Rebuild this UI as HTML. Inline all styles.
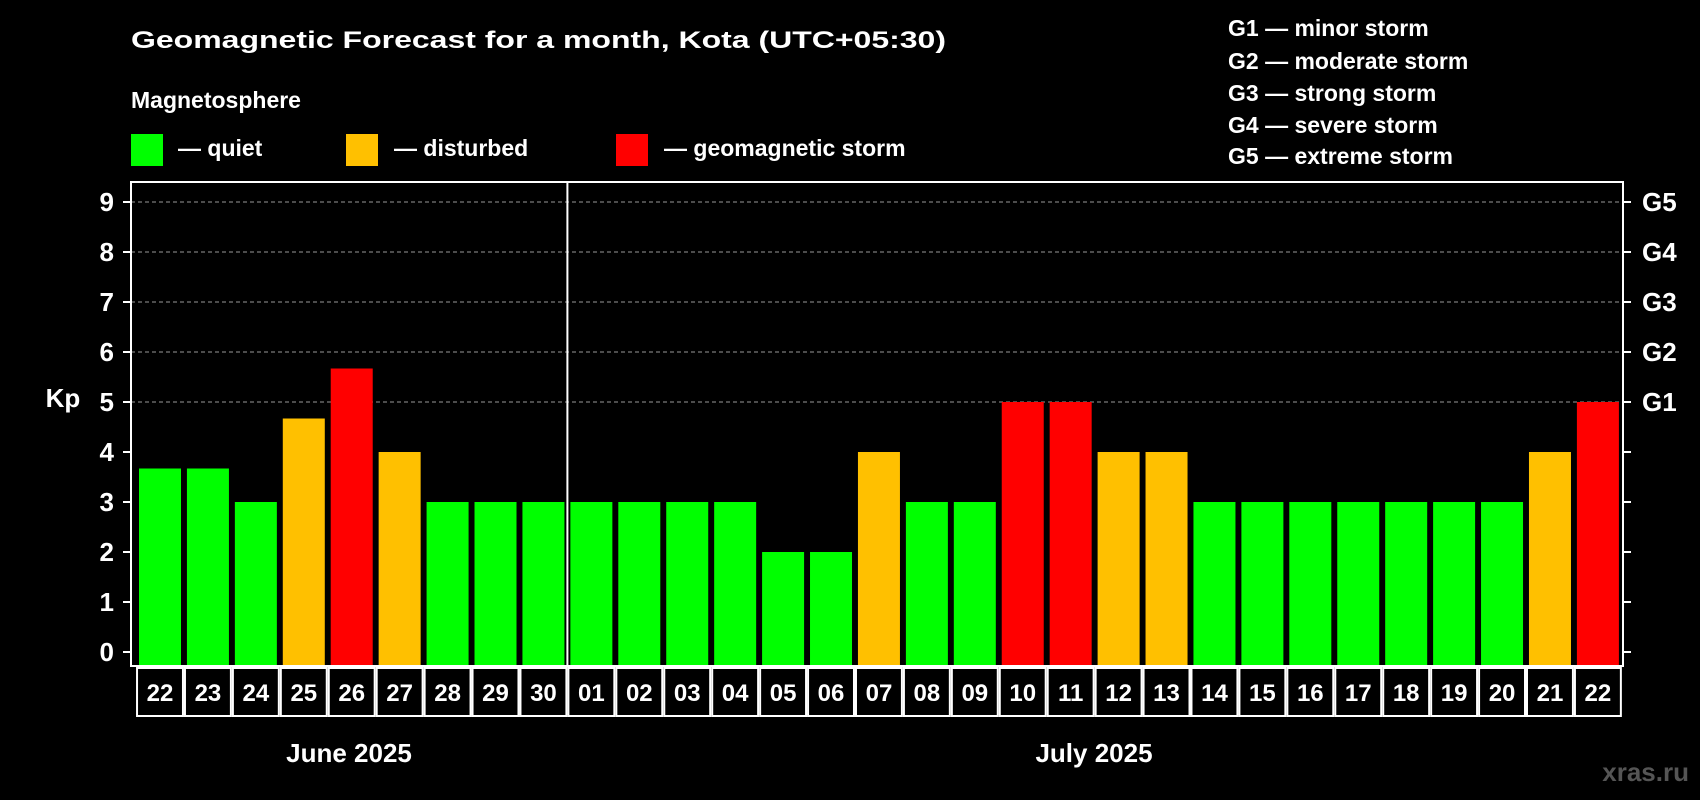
<!DOCTYPE html>
<html><head><meta charset="utf-8"><style>
html,body{margin:0;padding:0;background:#000;}
svg{display:block;font-family:"Liberation Sans",sans-serif;font-weight:bold;}
</style></head><body>
<svg id="chart" width="1700" height="800" viewBox="0 0 1700 800">
<rect x="0" y="0" width="1700" height="800" fill="#000"/>
<text x="131" y="48" font-size="24" fill="#fff" textLength="815" lengthAdjust="spacingAndGlyphs">Geomagnetic Forecast for a month, Kota (UTC+05:30)</text>
<text x="131" y="108" font-size="23" fill="#fff">Magnetosphere</text>
<g><rect x="131" y="134" width="32" height="32" fill="#00ff00"/><text x="178" y="156" font-size="23" fill="#fff">— quiet</text></g>
<g><rect x="346" y="134" width="32" height="32" fill="#ffc000"/><text x="394" y="156" font-size="23" fill="#fff">— disturbed</text></g>
<g><rect x="616" y="134" width="32" height="32" fill="#ff0000"/><text x="664" y="156" font-size="23" fill="#fff">— geomagnetic storm</text></g>
<g font-size="23" fill="#fff">
<text x="1228" y="36">G1 — minor storm</text>
<text x="1228" y="69">G2 — moderate storm</text>
<text x="1228" y="101">G3 — strong storm</text>
<text x="1228" y="133">G4 — severe storm</text>
<text x="1228" y="164">G5 — extreme storm</text>
</g>
<text x="63" y="407" font-size="26" fill="#fff" text-anchor="middle">Kp</text>
<g id="grid"></g><g id="bars"></g><g id="axes"></g><g id="dates"></g>
<text x="349" y="762" font-size="26" fill="#fff" text-anchor="middle">June 2025</text>
<text x="1094" y="762" font-size="26" fill="#fff" text-anchor="middle">July 2025</text>
<text x="1689" y="781" font-size="26" fill="#555" text-anchor="end">xras.ru</text>
</svg>
<script>
const days = ["22","23","24","25","26","27","28","29","30","01","02","03","04","05","06","07","08","09","10","11","12","13","14","15","16","17","18","19","20","21","22"];
const kpValues = [3.67,3.67,3,4.67,5.67,4,3,3,3,3,3,3,3,2,2,4,3,3,5,5,4,4,3,3,3,3,3,3,3,4,5];
const yTicks = [0,1,2,3,4,5,6,7,8,9];
const gLabels = ["","","","","","G1","G2","G3","G4","G5"];
const NS="http://www.w3.org/2000/svg";
const plotL=131,plotR=1623,plotT=182,plotB=666,x0=139,pitch=47.93,bw=42;
const y0=652,unit=50.0;
function yS(v){return y0-v*unit;}
function xS(i){return x0+i*pitch;}
function mk(tag,attrs,parent){const e=document.createElementNS(NS,tag);for(const k in attrs)e.setAttribute(k,attrs[k]);parent.appendChild(e);return e;}
const grid=document.getElementById('grid'),bars=document.getElementById('bars'),axes=document.getElementById('axes'),dates=document.getElementById('dates');
yTicks.forEach((t,i)=>{
  const y=yS(t);
  if(t>=5){const l=mk('line',{x1:plotL,x2:plotR,y1:y,y2:y,stroke:'#999','stroke-dasharray':'4,3','stroke-width':1},grid);
  
  }
  const tl=mk('line',{x1:plotL-8,x2:plotL,y1:y,y2:y,stroke:'#fff','stroke-width':2},axes);
  
  
  const tr=mk('line',{x1:plotR,x2:plotR+8,y1:y,y2:y,stroke:'#fff','stroke-width':2},axes);
  
  
  const lb=mk('text',{x:114,y:y+9,'font-size':26,fill:'#fff','text-anchor':'end'},axes);
  lb.textContent=t;
  
  
  if(gLabels[i]){const g=mk('text',{x:1642,y:y+9,'font-size':26,fill:'#fff'},axes);
  g.textContent=gLabels[i];
  
  }
});
kpValues.forEach((v,i)=>{
  const c=v>=5?'#ff0000':(v>=4?'#ffc000':'#00ff00');
  const b=mk('rect',{x:xS(i),y:yS(v),width:bw,height:plotB-yS(v)-1,fill:c},bars);
  
  
  const cx=xS(i)+bw/2;
  const box=mk('rect',{x:cx-pitch/2+1,y:668,width:pitch-2,height:48,fill:'none',stroke:'#fff','stroke-width':2},dates);
  
  
  const t=mk('text',{x:cx,y:701,'font-size':24,fill:'#fff','text-anchor':'middle'},dates);
  t.textContent=days[i];
  
  
});
const fr=mk('rect',{x:plotL,y:plotT,width:plotR-plotL,height:plotB-plotT,fill:'none',stroke:'#fff','stroke-width':2},axes);


const sx=xS(9)-(pitch-bw)/2;
const sep=mk('line',{x1:sx,x2:sx,y1:plotT,y2:plotB,stroke:'#fff','stroke-width':2},axes);


</script>
</body></html>
